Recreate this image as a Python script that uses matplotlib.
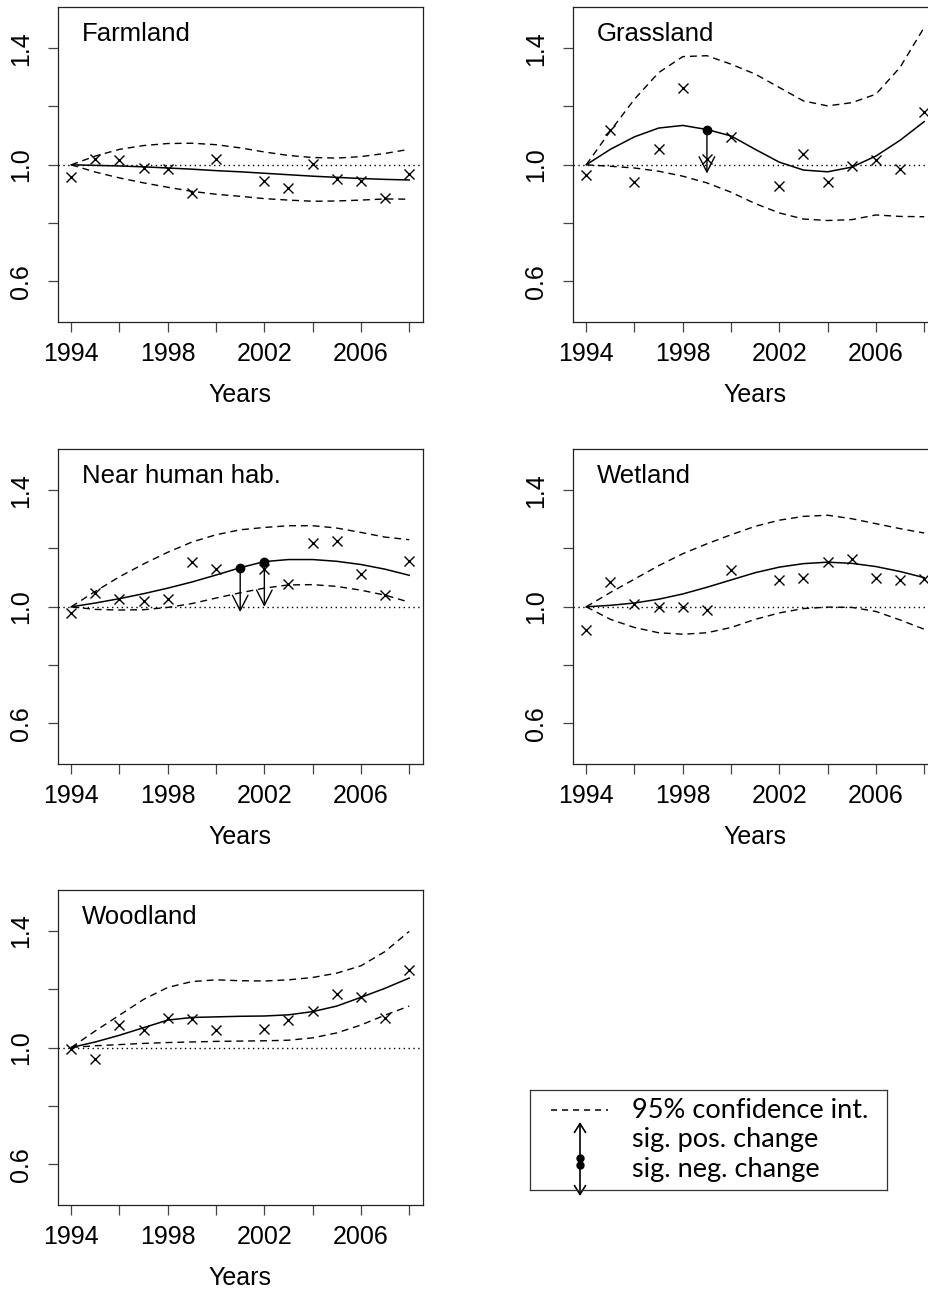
import numpy as np
import matplotlib.pyplot as plt
from matplotlib.patches import FancyArrowPatch

plt.rcParams['font.family'] = ['Liberation Sans', 'DejaVu Sans']

# survey years with an observed index (no survey in 2001)
obs_years = [1994, 1995, 1996, 1997, 1998, 1999, 2000, 2002, 2003, 2004, 2005, 2006, 2007, 2008]
# years at which the smoothed trend is evaluated
fit_years = list(range(1994, 2009))

habitats = ['Farmland', 'Grassland', 'Near human hab.', 'Wetland', 'Woodland']

farm_obs = [0.958, 1.021, 1.015, 0.990, 0.984, 0.903, 1.021, 0.946, 0.919, 1.003, 0.952, 0.946, 0.887, 0.967]
farm_fit = [1.000, 0.998, 0.996, 0.993, 0.989, 0.985, 0.980, 0.976, 0.971, 0.966, 0.961, 0.957, 0.953, 0.950, 0.948]
farm_upr = [1.000, 1.030, 1.053, 1.066, 1.073, 1.074, 1.069, 1.058, 1.044, 1.032, 1.025, 1.023, 1.028, 1.039, 1.053]
farm_lwr = [1.000, 0.975, 0.955, 0.938, 0.923, 0.909, 0.899, 0.892, 0.884, 0.879, 0.875, 0.876, 0.879, 0.883, 0.882]
farm_neg_years, farm_neg_tips = [], []

grass_obs = [0.964, 1.121, 0.940, 1.053, 1.262, 1.021, 1.095, 0.927, 1.038, 0.942, 0.995, 1.018, 0.985, 1.182]
grass_fit = [1.000, 1.053, 1.096, 1.126, 1.135, 1.121, 1.099, 1.053, 1.009, 0.982, 0.976, 0.992, 1.030, 1.084, 1.148]
grass_upr = [1.000, 1.116, 1.225, 1.316, 1.371, 1.374, 1.345, 1.311, 1.265, 1.219, 1.202, 1.213, 1.242, 1.334, 1.471]
grass_lwr = [1.000, 0.995, 0.989, 0.978, 0.961, 0.938, 0.906, 0.867, 0.835, 0.814, 0.809, 0.812, 0.828, 0.823, 0.822]
grass_neg_years, grass_neg_tips = [1999], [0.970]

human_obs = [0.980, 1.049, 1.026, 1.020, 1.028, 1.155, 1.128, 1.130, 1.078, 1.218, 1.225, 1.111, 1.039, 1.156]
human_fit = [1.000, 1.013, 1.028, 1.045, 1.064, 1.085, 1.109, 1.134, 1.155, 1.162, 1.162, 1.156, 1.145, 1.129, 1.108]
human_upr = [1.000, 1.053, 1.103, 1.147, 1.187, 1.222, 1.247, 1.264, 1.272, 1.278, 1.278, 1.270, 1.255, 1.239, 1.230]
human_lwr = [1.000, 0.991, 0.989, 0.990, 0.998, 1.011, 1.030, 1.048, 1.064, 1.075, 1.076, 1.070, 1.057, 1.040, 1.016]
human_neg_years, human_neg_tips = [2001, 2002], [0.982, 1.000]

wet_obs = [0.921, 1.085, 1.010, 1.000, 1.001, 0.990, 1.126, 1.091, 1.098, 1.152, 1.164, 1.100, 1.093, 1.095]
wet_fit = [1.000, 1.005, 1.013, 1.026, 1.044, 1.067, 1.092, 1.117, 1.136, 1.148, 1.153, 1.149, 1.138, 1.121, 1.100]
wet_upr = [1.000, 1.049, 1.095, 1.141, 1.182, 1.216, 1.247, 1.276, 1.297, 1.310, 1.314, 1.302, 1.285, 1.268, 1.253]
wet_lwr = [1.000, 0.957, 0.929, 0.911, 0.906, 0.911, 0.929, 0.957, 0.979, 0.994, 0.999, 0.998, 0.984, 0.955, 0.923]
wet_neg_years, wet_neg_tips = [], []

wood_obs = [0.994, 0.962, 1.077, 1.061, 1.101, 1.097, 1.061, 1.065, 1.095, 1.124, 1.183, 1.173, 1.100, 1.267]
wood_fit = [1.000, 1.019, 1.042, 1.068, 1.094, 1.103, 1.105, 1.107, 1.108, 1.112, 1.123, 1.142, 1.172, 1.203, 1.238]
wood_upr = [1.000, 1.057, 1.111, 1.165, 1.206, 1.226, 1.232, 1.229, 1.228, 1.232, 1.240, 1.255, 1.280, 1.329, 1.398]
wood_lwr = [1.000, 1.006, 1.010, 1.014, 1.017, 1.019, 1.021, 1.022, 1.023, 1.025, 1.033, 1.050, 1.077, 1.111, 1.142]
wood_neg_years, wood_neg_tips = [], []

panels = [
    (farm_obs, farm_fit, farm_upr, farm_lwr, farm_neg_years, farm_neg_tips),
    (grass_obs, grass_fit, grass_upr, grass_lwr, grass_neg_years, grass_neg_tips),
    (human_obs, human_fit, human_upr, human_lwr, human_neg_years, human_neg_tips),
    (wet_obs, wet_fit, wet_upr, wet_lwr, wet_neg_years, wet_neg_tips),
    (wood_obs, wood_fit, wood_upr, wood_lwr, wood_neg_years, wood_neg_tips),
]

W, H = 929, 1290
fig = plt.figure(figsize=(W / 100, H / 100), dpi=100)

col_left = [57.7, 572.7]
row_top = [7.3, 449.3, 890.0]
ax_w, ax_h = 365.0, 315.0

dash = (0, (5, 3.5))
dot = (0, (1, 2.5))

for i, (name, (obs, fit, upr, lwr, neg_years, neg_tips)) in enumerate(zip(habitats, panels)):
    r, c = divmod(i, 2)
    ax = fig.add_axes([col_left[c] / W, 1 - (row_top[r] + ax_h) / H, ax_w / W, ax_h / H])

    ax.axhline(1.0, color='black', lw=1, ls=dot)
    ax.plot(fit_years, upr, color='black', lw=1, ls=dash)
    ax.plot(fit_years, lwr, color='black', lw=1, ls=dash)
    ax.plot(fit_years, fit, color='black', lw=1.1)
    ax.plot(obs_years, obs, ls='none', marker='x', ms=7, mew=1, color='black')

    fit_at = dict(zip(fit_years, fit))
    for yr, tip in zip(neg_years, neg_tips):
        ax.annotate('', xy=(yr, tip), xytext=(yr, fit_at[yr]),
                    arrowprops=dict(arrowstyle='->,head_length=0.55,head_width=0.28',
                                    mutation_scale=20, lw=1, color='black',
                                    shrinkA=0, shrinkB=0))
        ax.plot(yr, fit_at[yr], 'o', ms=6, color='black')

    ax.set_xlim(1993.44, 2008.56)
    ax.set_ylim(0.46, 1.54)
    ax.set_xticks(range(1994, 2009, 2))
    ax.set_xticklabels([str(y) if (y - 1994) % 4 == 0 else '' for y in range(1994, 2009, 2)])
    ax.set_yticks([0.6, 0.8, 1.0, 1.2, 1.4])
    ax.set_yticklabels(['0.6', '', '1.0', '', '1.4'], rotation=90, va='center')
    ax.tick_params(direction='out', length=7.5, width=0.9, color='#444444', labelsize=18)
    ax.tick_params(axis='x', pad=7)
    ax.tick_params(axis='y', pad=10)
    for s in ax.spines.values():
        s.set_linewidth(0.9)
        s.set_color('#222222')
    ax.set_xlabel('Years', fontsize=18, labelpad=12)
    ax.text(0.066, 0.893, name, transform=ax.transAxes, fontsize=18.5, va='baseline')

# key box in the empty bottom-right slot, laid out in pixel units
lw_, lh_ = 357.0, 100.0
lax = fig.add_axes([530 / W, 1 - (1090 + lh_) / H, lw_ / W, lh_ / H])
lax.set_xlim(0, lw_)
lax.set_ylim(lh_, 0)
lax.set_xticks([])
lax.set_yticks([])
for s in lax.spines.values():
    s.set_linewidth(0.9)
    s.set_color('#333333')

lax.plot([21, 78], [20, 20], color='black', lw=1.1, ls=(0, (4, 3.2)))
key_font = ['Lato', 'DejaVu Sans']
lax.text(102, 21, '95% confidence int.', fontsize=19.5, family=key_font, va='center')
lax.text(102, 50, 'sig. pos. change', fontsize=19.5, family=key_font, va='center')
lax.text(102, 79, 'sig. neg. change', fontsize=19.5, family=key_font, va='center')

up = FancyArrowPatch((50, 68), (50, 32), arrowstyle='->,head_length=0.4,head_width=0.25',
                     mutation_scale=16, lw=1.2, color='black', shrinkA=0, shrinkB=0)
lax.add_patch(up)
lax.plot(50, 68, 'o', ms=5, color='black')
down = FancyArrowPatch((50, 75), (50, 106), arrowstyle='->,head_length=0.4,head_width=0.25',
                       mutation_scale=16, lw=1.2, color='black', shrinkA=0, shrinkB=0,
                       clip_on=False)
lax.add_patch(down)
lax.plot(50, 75, 'o', ms=5, color='black')

fig.savefig('out.png', dpi=100)
